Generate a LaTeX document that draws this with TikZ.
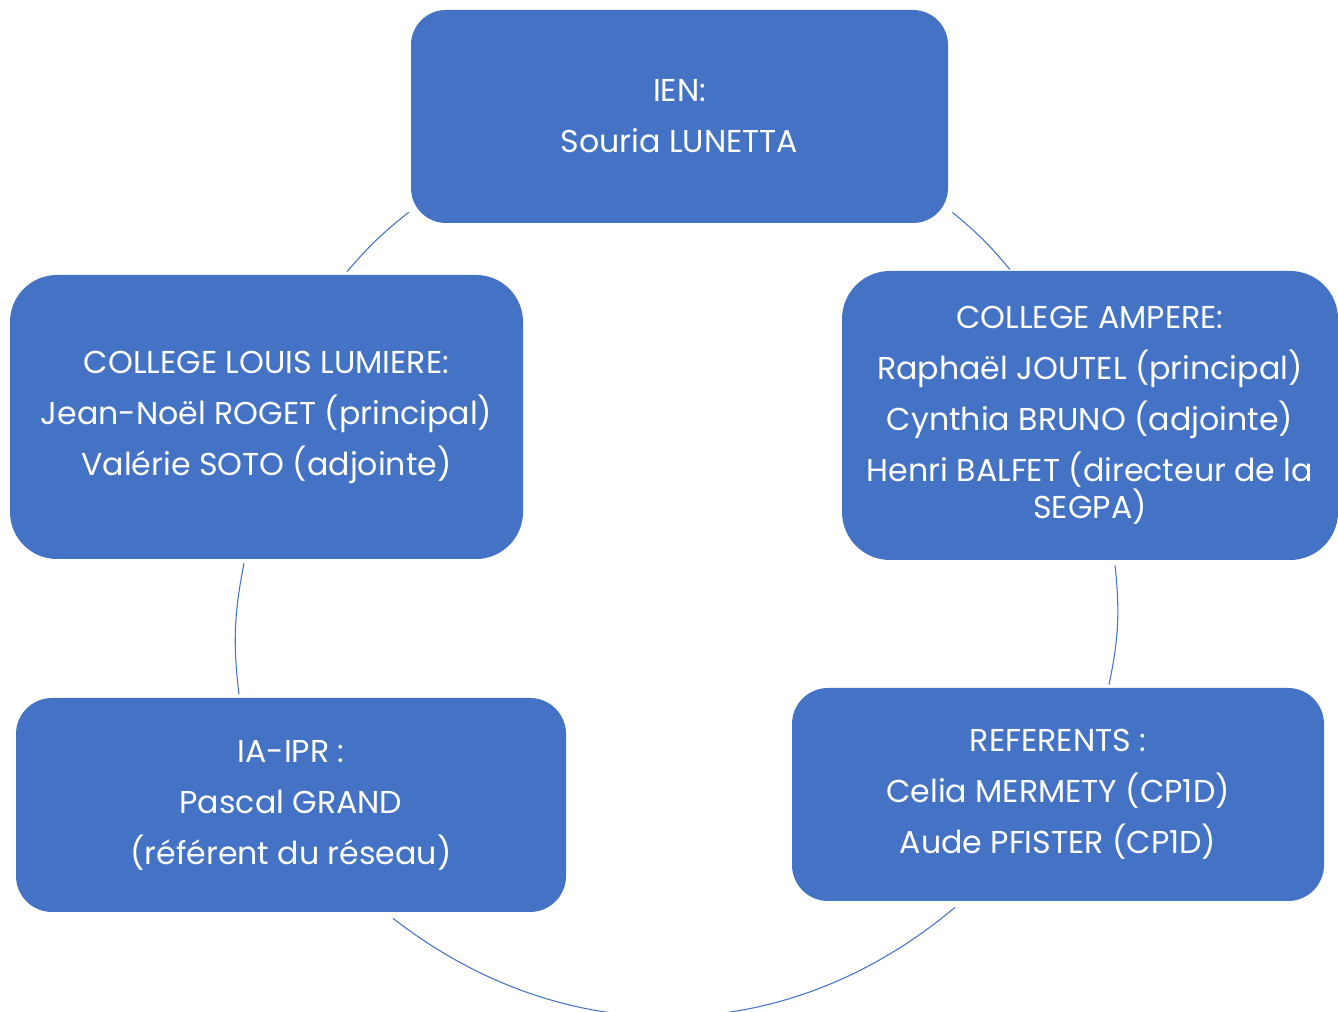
\documentclass[tikz,border=0pt]{standalone}
\usepackage{fontspec}
\setmainfont{Poppins}
\usepackage{xcolor}
\usetikzlibrary{calc,positioning}
\definecolor{boxblue}{RGB}{68,114,196}
\newcommand{\boxfont}{\fontsize{18}{21}\selectfont\lineskiplimit=-30pt\relax}

\begin{document}
\begin{tikzpicture}[link/.style={draw=boxblue, line width=0.6pt}]
% Define styles for the boxes
\tikzstyle{block} = [fill=boxblue, rectangle, text=white, align=center, inner sep=0pt, font=\boxfont]
\useasboundingbox (0,0) rectangle (26.76,20.24);

% Boxes placement
\node [block, minimum width=10.74cm, minimum height=4.26cm, rounded corners=0.7cm] (ien) at (13.59,17.91) {IEN:\\[8pt] Souria LUNETTA};
\node [block, minimum width=10.26cm, minimum height=5.68cm, rounded corners=0.94cm] (lumiere) at (5.33,11.9) {COLLEGE LOUIS LUMIERE:\\[8pt] Jean-Noël ROGET (principal)\\[8pt] Valérie SOTO (adjointe)};
\node [block, minimum width=9.92cm, minimum height=5.78cm, rounded corners=0.96cm] (ampere) at (21.8,11.93) {COLLEGE AMPERE:\\[8pt] Raphaël JOUTEL (principal)\\[8pt] Cynthia BRUNO (adjointe)\\[8pt] Henri BALFET (directeur de la\\ SEGPA)};
\node [block, minimum width=11cm, minimum height=4.28cm, rounded corners=0.72cm] (iapr) at (5.82,4.14) {IA-IPR :\\[8pt] Pascal GRAND\\[8pt] (référent du réseau)};
\node [block, minimum width=10.64cm, minimum height=4.26cm, rounded corners=0.72cm] (referents) at (21.16,4.35) {REFERENTS :\\[8pt] Celia MERMETY (CP1D)\\[8pt] Aude PFISTER (CP1D)};

% Arcs of the cycle
\draw[link] ($(ien.south west)+(-0.04,0.22)$) to[bend right=5.5] ($(lumiere.north)+(1.61,0.06)$);
\draw[link] ($(ien.south east)+(0.08,0.22)$) to[bend left=5.5] ($(ampere.north)+(-1.6,0.02)$);
\draw[link] ($(lumiere.south)+(-0.45,-0.08)$) to[bend right=9] ($(iapr.north)+(-1.04,0.06)$);
\draw[link] ($(ampere.south)+(0.5,-0.1)$) to[bend left=9] ($(referents.north)+(1.02,0.06)$);
\draw[link] ($(iapr.south)+(2.04,-0.12)$) to[bend right=39] ($(referents.south)+(-2.06,-0.12)$);
\end{tikzpicture}
\end{document}
